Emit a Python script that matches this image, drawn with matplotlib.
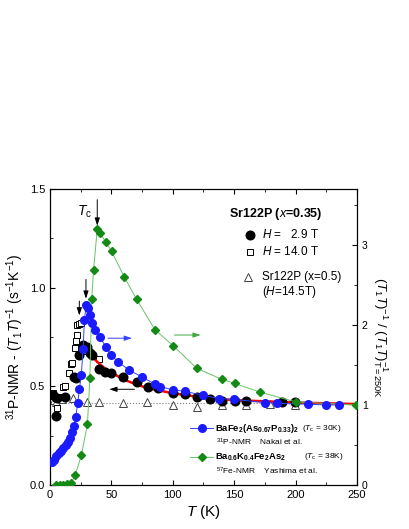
import numpy as np
import matplotlib.pyplot as plt
from matplotlib.ticker import MultipleLocator

plt.rcParams['font.family'] = ['Liberation Sans', 'DejaVu Sans']
plt.rcParams['mathtext.fontset'] = 'custom'
plt.rcParams['mathtext.rm'] = 'Liberation Sans'
plt.rcParams['mathtext.it'] = 'Liberation Sans:italic'
plt.rcParams['mathtext.bf'] = 'Liberation Sans:bold'

# Sr122P x=0.35, H=2.9 T (left axis)
t_h29 = [2.7, 4.9, 6, 12.2, 19.8, 21, 23.9, 26.6, 29.9, 32.6, 34, 40.2, 44.8,
         49.7, 59.7, 70.6, 80, 88.2, 100.4, 110, 119.4, 130, 139.8, 150.6,
         160, 188.7, 199.5]
v_h29 = [0.455, 0.35, 0.44, 0.448, 0.549, 0.54, 0.659, 0.71, 0.70, 0.668,
         0.66, 0.59, 0.574, 0.566, 0.549, 0.524, 0.498, 0.49, 0.465, 0.461,
         0.448, 0.436, 0.427, 0.426, 0.425, 0.42, 0.42]

# Sr122P x=0.35, H=14.0 T (left axis)
t_h14 = [2.7, 4.9, 6, 7.6, 10.8, 12, 15.7, 16.8, 18, 20.4, 21.2, 22.2, 21.7,
         23.6, 25, 27, 40.2]
v_h14 = [0.465, 0.44, 0.39, 0.448, 0.498, 0.50, 0.566, 0.613, 0.62, 0.693,
         0.73, 0.76, 0.81, 0.816, 0.823, 0.68, 0.636]

# Sr122P x=0.5, H=14.5 T (left axis)
t_x05 = [3, 5, 9.5, 19, 30, 40, 59.7, 79, 99.9, 119.5, 140, 160, 179, 199.5]
v_x05 = [0.43, 0.42, 0.434, 0.44, 0.42, 0.42, 0.417, 0.42, 0.405, 0.397,
         0.405, 0.405, 0.41, 0.405]
v_x05_level = 0.413

# fit curve (left axis)
t_fit = [33, 36, 40, 45, 50, 60, 70, 80, 100, 120, 150, 200, 250]
v_fit = [0.67, 0.64, 0.615, 0.59, 0.57, 0.535, 0.51, 0.49, 0.465, 0.447,
         0.43, 0.418, 0.41]

# BaFe2(As0.67P0.33)2, normalised (right axis)
t_bap = [1.5, 3, 5, 7, 9, 11, 13, 15, 16.5, 18, 19.5, 21, 22.5, 24, 25.5, 27,
         28, 29.5, 31, 32.5, 34, 36.5, 40.5, 45.5, 50, 55.5, 64, 75, 85.5,
         90, 100, 110, 125, 138, 150, 175, 185, 210, 225, 235]
r_bap = [0.29, 0.31, 0.36, 0.40, 0.43, 0.46, 0.50, 0.54, 0.59, 0.66, 0.74,
         0.85, 1.02, 1.2, 1.38, 1.70, 2.06, 2.25, 2.21, 2.12, 2.02, 1.94,
         1.85, 1.73, 1.62, 1.54, 1.44, 1.35, 1.26, 1.23, 1.19, 1.17, 1.12,
         1.08, 1.07, 1.03, 1.02, 1.01, 1.0, 1.0]

# Ba0.6K0.4Fe2As2, normalised (right axis)
t_bak = [5, 8, 11, 14, 17.5, 20.5, 25.5, 30.5, 32.5, 34, 35.5, 38.5, 40.7,
         45.3, 50.2, 60.5, 70.6, 85.5, 100.4, 119.5, 140, 150.5, 171, 200, 249]
r_bak = [0.0, 0.0, 0.005, 0.01, 0.03, 0.12, 0.37, 0.76, 1.34, 2.33, 2.69,
         3.20, 3.15, 3.04, 2.92, 2.60, 2.32, 1.94, 1.74, 1.46, 1.32, 1.27,
         1.16, 1.04, 1.0]

fig = plt.figure(figsize=(4.09, 5.29), dpi=100)
ax = fig.add_axes([0.1222, 0.0832, 0.7506, 0.5595])
ax2 = ax.twinx()

ax.axhline(v_x05_level, color='gray', ls=':', lw=0.8, zorder=1)
ax.plot(t_x05, v_x05, '^', mfc='white', mec='#444444', mew=0.7, ms=5.5, ls='none', zorder=2)
ax.plot(t_h14, v_h14, 's', mfc='white', mec='black', mew=0.7, ms=4.5, ls='none', zorder=3)
ax.plot(t_fit, v_fit, '-', color='red', lw=1.8, zorder=4)
ax.plot(t_h29, v_h29, 'o', color='black', ms=6.2, ls='none', zorder=5)

ax2.plot(t_bap, r_bap, '-', color='#3344ff', lw=0.7, zorder=2)
ax2.plot(t_bap, r_bap, 'o', color='#1a1aff', ms=5.5, ls='none', zorder=3)
ax2.plot(t_bak, r_bak, '-', color='#66c466', lw=0.7, zorder=2)
ax2.plot(t_bak, r_bak, 'D', color='#138a13', ms=4.2, ls='none', zorder=3)

ax.set_xlim(0, 250)
ax.set_ylim(0, 1.5)
ax2.set_ylim(0, 3.7)

ax.xaxis.set_major_locator(MultipleLocator(50))
ax.xaxis.set_minor_locator(MultipleLocator(25))
ax.yaxis.set_major_locator(MultipleLocator(0.5))
ax.yaxis.set_minor_locator(MultipleLocator(0.25))
ax.yaxis.set_major_formatter(plt.FormatStrFormatter('%.1f'))
ax2.yaxis.set_major_locator(MultipleLocator(1))
ax2.yaxis.set_minor_locator(MultipleLocator(0.5))

ax.tick_params(which='both', direction='in', top=True, labelsize=8)
ax.tick_params(which='major', length=3.5)
ax.tick_params(which='minor', length=2)
ax2.tick_params(which='both', direction='in', labelsize=7.5)
ax2.tick_params(which='major', length=3.5)
ax2.tick_params(which='minor', length=2)

ax.set_xlabel(r'$T$ (K)', fontsize=11, labelpad=2)
ax.set_ylabel(r'$^{31}$P-NMR - ($T_1T$)$^{-1}$ (s$^{-1}$K$^{-1}$)', fontsize=10, labelpad=3)
ax2.set_ylabel(r'($T_1T$)$^{-1}$ / ($T_1T$)$^{-1}_{\rm T=250K}$', fontsize=9.5,
               rotation=270, labelpad=16)

# arrows
arr = dict(arrowstyle='-|>,head_length=0.45,head_width=0.15', lw=0.7)
ax.annotate('', xy=(69, 0.744), xytext=(45, 0.744), arrowprops=dict(arr, color='#3344ff'))
ax.annotate('', xy=(125, 0.76), xytext=(99, 0.76), arrowprops=dict(arr, color='#44aa44'))
ax.annotate('', xy=(46, 0.485), xytext=(71, 0.485), arrowprops=dict(arr, color='black'))
ax.annotate('', xy=(38.5, 1.30), xytext=(38.5, 1.46), arrowprops=dict(arr, color='black'))
ax.annotate('', xy=(29.3, 0.93), xytext=(29.3, 1.056), arrowprops=dict(arr, color='black'))
ax.annotate('', xy=(23.9, 0.845), xytext=(23.9, 0.946), arrowprops=dict(arr, color='black'))
ax.text(28, 1.385, r'$T_{\rm c}$', fontsize=10, ha='center', va='center')

# legend for Sr122P
ax.text(145.5, 1.373, r'Sr122P ($\mathit{x}$=0.35)', fontsize=9, fontweight='bold', va='center')
ax.plot([162.9], [1.267], 'o', color='black', ms=6.2)
ax.text(173, 1.267, r'$H$ =   2.9 T', fontsize=8.5, va='center')
ax.plot([162.9], [1.182], 's', mfc='white', mec='black', mew=0.7, ms=4.5)
ax.text(173, 1.182, r'$H$ = 14.0 T', fontsize=8.5, va='center')
ax.plot([161.5], [1.053], '^', mfc='white', mec='#444444', mew=0.7, ms=5.5)
ax.text(172.5, 1.053, 'Sr122P (x=0.5)', fontsize=8.5, va='center')
ax.text(172.5, 0.98, r'($H$=14.5T)', fontsize=8.5, va='center')

# legend for reference compounds
ax.plot([114, 133], [0.287, 0.287], '-', color='#3344ff', lw=0.7)
ax.plot([123.5], [0.287], 'o', color='#1a1aff', ms=5.5)
ax.text(134.4, 0.287, r'$\mathbf{BaFe_2(As_{0.67}P_{0.33})_2}$', fontsize=6.8, va='center')
ax.text(205, 0.287, r'($T_{\rm c}$ = 30K)', fontsize=6, va='center')
ax.text(135, 0.214, r'$^{31}$P-NMR    Nakai et al.', fontsize=6, va='center')
ax.plot([114, 133], [0.143, 0.143], '-', color='#66c466', lw=0.7)
ax.plot([123.5], [0.143], 'D', color='#138a13', ms=4.2)
ax.text(134.4, 0.143, r'$\mathbf{Ba_{0.6}K_{0.4}Fe_2As_2}$', fontsize=6.8, va='center')
ax.text(207, 0.143, r'($T_{\rm c}$ = 38K)', fontsize=6, va='center')
ax.text(135, 0.071, r'$^{57}$Fe-NMR    Yashima et al.', fontsize=6, va='center')

fig.savefig('out.png', dpi=100)
